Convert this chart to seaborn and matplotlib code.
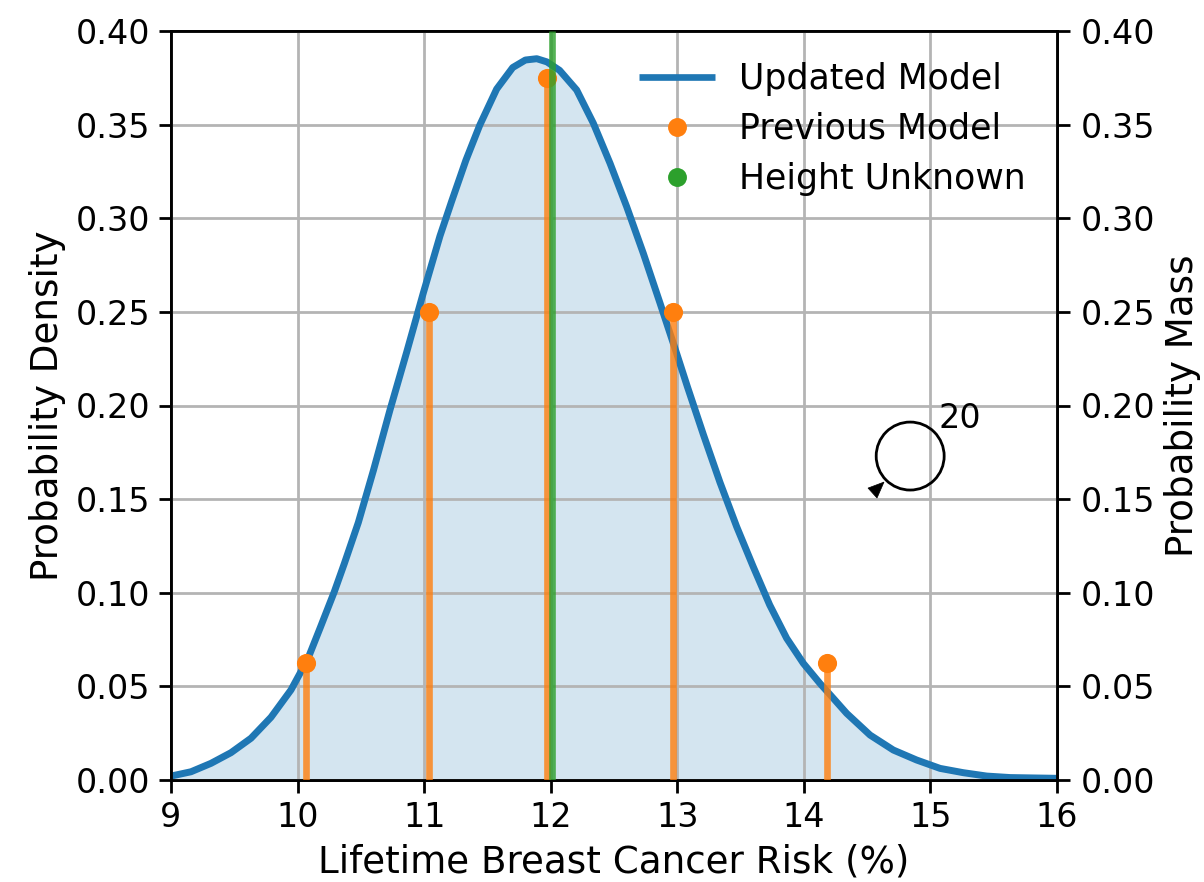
import numpy as np
import pandas as pd
import matplotlib
matplotlib.use("Agg")
import matplotlib.pyplot as plt
from matplotlib.patches import Ellipse, Polygon
import seaborn as sns

risk = [9.0, 9.158, 9.316, 9.474, 9.632, 9.79, 9.948, 10.08, 10.18, 10.29, 10.37, 10.48, 10.6, 10.73, 10.862, 10.993,
        11.125, 11.217, 11.33, 11.44, 11.573, 11.7, 11.8, 11.89, 11.97, 12.07, 12.205, 12.337, 12.469, 12.6, 12.732, 12.864, 12.995,
        13.08, 13.206, 13.337, 13.469, 13.6, 13.73, 13.864, 13.996, 14.127, 14.233, 14.338, 14.523, 14.707,
        14.89, 15.076, 15.26, 15.445, 15.63, 15.81, 16.0]
density = [0.0021, 0.0044, 0.0089, 0.0146, 0.0223, 0.0335, 0.0481, 0.0645, 0.0815, 0.1005, 0.1157, 0.1375, 0.1655, 0.1976, 0.2285, 0.2600,
           0.2905, 0.3090, 0.3310, 0.3498, 0.3690, 0.3805, 0.3845, 0.3852, 0.3835, 0.3790, 0.3685, 0.3507, 0.3293, 0.3062, 0.2812, 0.2546, 0.2278,
           0.2100, 0.1845, 0.1590, 0.1353, 0.1139, 0.0935, 0.0757, 0.0623, 0.0516, 0.0436, 0.0356, 0.0240, 0.0160,
           0.0107, 0.0062, 0.0039, 0.0021, 0.0013, 0.0011, 0.0009]
prev_x = [10.07, 11.04, 11.97, 12.97, 14.18]
prev_mass = [0.0625, 0.25, 0.375, 0.25, 0.0625]
unknown_x = 12.01
xticks = [9, 10, 11, 12, 13, 14, 15, 16]
yticks = [0.00, 0.05, 0.10, 0.15, 0.20, 0.25, 0.30, 0.35, 0.40]
labels = ["Updated Model", "Previous Model", "Height Unknown"]
FS_TICK, FS_LABEL, FS_LEG = 24, 26.8, 25
BLUE, ORANGE, GREEN = "#1f77b4", "#ff7f0e", "#2ca02c"

sns.set_theme(style="ticks", rc={"font.family": "DejaVu Sans", "text.color": "black", "axes.labelcolor": "black"})
fig = plt.figure(figsize=(12.04, 8.82), dpi=100)
ax = fig.add_axes([171/1204, 1-780/882, (1057-171)/1204, (780-31)/882])

df = pd.DataFrame({"risk": risk, "density": density})
ax.fill_between(risk, density, color=BLUE, alpha=0.19, lw=0, zorder=1)
sns.lineplot(data=df, x="risk", y="density", ax=ax, color=BLUE, lw=5, zorder=3)
ax.set_xlim(9, 16)
ax.set_ylim(0, 0.40)
ax.set_xticks(xticks)
ax.set_yticks(yticks)
ax.set_yticklabels([f"{v:.2f}" for v in yticks])
ax.set_xlabel("Lifetime Breast Cancer Risk (%)", fontsize=FS_LABEL, labelpad=7)
ax.set_ylabel("Probability Density", fontsize=FS_LABEL, labelpad=7)
ax.grid(True, color="#b4b4b4", lw=2, zorder=2)
ax.set_axisbelow(False)

ax2 = ax.twinx()
ax2.set_ylim(0, 0.40)
ax2.set_yticks(yticks)
ax2.set_yticklabels([f"{v:.2f}" for v in yticks])
ax2.set_ylabel("Probability Mass", fontsize=FS_LABEL, labelpad=6)
ax2.vlines(prev_x, 0, prev_mass, color=ORANGE, lw=4.8, alpha=0.8, zorder=3)
sns.scatterplot(x=prev_x, y=prev_mass, ax=ax2, color=ORANGE, s=190, lw=0, zorder=4, clip_on=False)
ax2.vlines([unknown_x], 0, 0.40, color=GREEN, lw=4.8, alpha=0.8, zorder=5)

ax.tick_params(labelsize=FS_TICK, width=2, length=9, color="black", labelcolor="black", pad=6)
ax2.tick_params(labelsize=FS_TICK, width=2, length=9, color="black", labelcolor="black", pad=8)
for a in (ax, ax2):
    for s in a.spines.values():
        s.set_visible(True)
        s.set_linewidth(2)
        s.set_color("black")

# legend
handles = [
    plt.Line2D([], [], color=BLUE, lw=4.8, solid_capstyle="butt"),
    plt.Line2D([], [], color=ORANGE, marker="o", ms=13.6, lw=0, mew=0),
    plt.Line2D([], [], color=GREEN, marker="o", ms=13.6, lw=0, mew=0),
]
ax2.legend(handles, labels, loc="upper right", frameon=False, fontsize=FS_LEG,
           bbox_to_anchor=(1.002, 1.003), borderaxespad=0.55, handlelength=2.19,
           handletextpad=0.69, labelspacing=0.46)

# looped annotation
ax2.add_patch(Ellipse((14.84, 0.173), 0.537, 0.0363, fill=False, ec="black", lw=2, zorder=6))
ax2.add_patch(Polygon([(14.633, 0.1591), (14.507, 0.1559), (14.578, 0.1506)], closed=True, fc="black", ec="black", lw=0.5, zorder=6))
ax2.text(15.234, 0.1933, "20", fontsize=FS_TICK, va="center", ha="center", color="black", zorder=6)

fig.savefig("out.png", dpi=100)
